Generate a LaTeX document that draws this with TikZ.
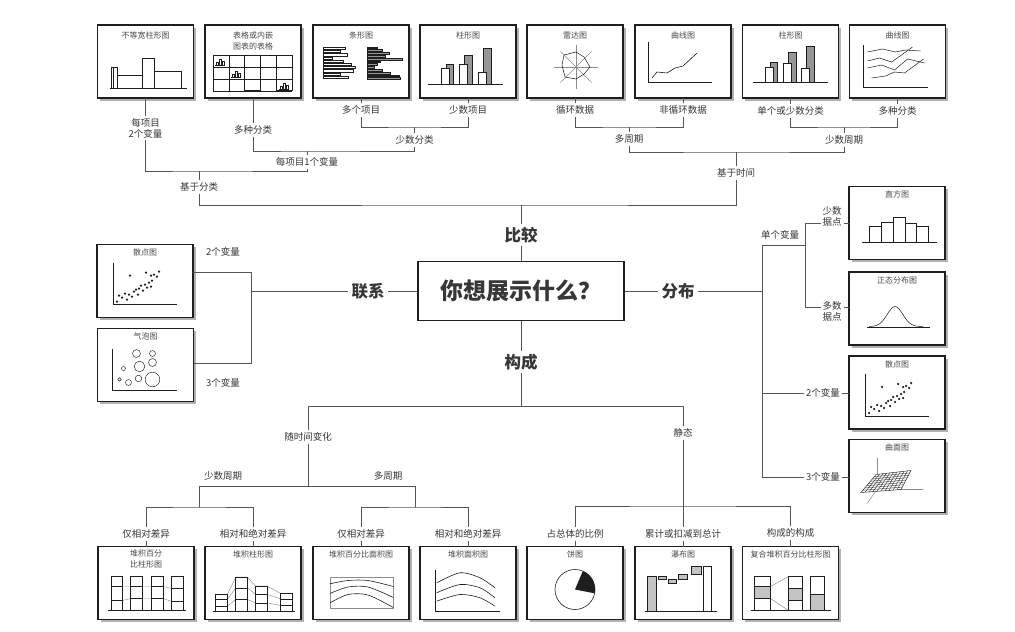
\documentclass[tikz,border=0pt]{standalone}
\usepackage{fontspec}
\setmainfont{Noto Sans CJK SC}
\usetikzlibrary{calc,shadows}
\definecolor{chart@line}{RGB}{85,85,85}
\definecolor{chart@text}{RGB}{55,55,55}
\definecolor{chart@frame}{RGB}{30,30,30}
\definecolor{chart@fill}{RGB}{150,150,150}
\definecolor{chart@light}{RGB}{195,195,195}
\definecolor{chart@thin}{RGB}{140,140,140}
\tikzset{
  chooser/.style={x=1pt, y=-1pt, line width=0.6pt},
  chartbox/.style={                % small chart panel
    draw=chart@frame, line width=1.1pt, fill=white,
    minimum width=96pt, minimum height=73pt,
    inner sep=0pt, outer sep=0pt,
    drop shadow={shadow xshift=2.5pt, shadow yshift=-2.5pt, fill=black, opacity=0.3}
  },
  qbox/.style={                    % central question
    draw=chart@frame, line width=1.2pt, fill=white,
    minimum width=206pt, minimum height=59pt,
    font=\fontsize{23}{26}\selectfont\bfseries, text=chart@text
  },
  ctitle/.style={font=\fontsize{8}{11}\selectfont, text=chart@text!90, align=center, inner sep=1pt},
  branch/.style={font=\fontsize{9.5}{11}\selectfont, text=chart@text, align=center, inner sep=2pt},
  branchw/.style={branch, fill=white},
  topic/.style={font=\fontsize{16.5}{18}\selectfont\bfseries, text=chart@text, inner sep=3pt},
  link/.style={draw=chart@line, line width=0.75pt},
  ink/.style={draw=chart@frame, line width=0.6pt},
  thinline/.style={draw=chart@thin, line width=0.45pt},
  greybar/.style={draw=chart@frame, fill=chart@fill, line width=0.5pt},
  lightbar/.style={draw=chart@frame, fill=chart@light, line width=0.5pt},
  whitebar/.style={draw=chart@frame, fill=white, line width=0.5pt},
  cellbars/.pic={
    \draw[ink, line width=0.4pt] (0,0) -- (10,0);
    \draw[ink, line width=0.4pt] (1,0) |- (3,-3) -- (3,0);
    \draw[ink, line width=0.4pt] (4,0) |- (6,-6) -- (6,0);
    \draw[ink, line width=0.4pt] (7,0) |- (9,-4) -- (9,0);
  },
  scatterplot/.pic={
    \draw[ink] (16,18) -- (16,60) -- (80,60);
    \foreach \px/\py in {20/57, 22/51, 25/53, 28/49, 30/55, 32/50, 35/52, 37/47, 39/45,
                         41/50, 42/44, 44/41, 46/46, 48/40, 50/43, 52/38, 54/42, 55/36,
                         57/30, 60/32, 62/27, 33/31, 49/28, 54/31}
      \fill[chart@frame] (\px,\py) circle (1.25);
  }
}

\begin{document}
\begin{tikzpicture}[chooser]
\useasboundingbox[fill=white] (0,0) rectangle (1015,632);

% Central question and the four topics
\node[qbox] (q) at (521,291) {你想展示什么？};
\node[topic] (cmp)  at (521,235) {比较};
\node[topic] (rel)  at (368,291) {联系};
\node[topic] (dist) at (678,291) {分布};
\node[topic] (comp) at (521,362) {构成};

% Top row of charts
\node[chartbox] (t1) at (145.5,61.5) {};
\node[chartbox] (t2) at (253,61.5) {};
\node[chartbox] (t3) at (361,61.5) {};
\node[chartbox] (t4) at (468,61.5) {};
\node[chartbox] (t5) at (575,61.5) {};
\node[chartbox] (t6) at (683,61.5) {};
\node[chartbox] (t7) at (790.5,61.5) {};
\node[chartbox] (t8) at (897.5,61.5) {};

% Left charts
\node[chartbox] (s1) at (145,281) {};
\node[chartbox] (s2) at (145.5,365) {};

% Right charts
\node[chartbox] (r1) at (897,223) {};
\node[chartbox] (r2) at (897,308.5) {};
\node[chartbox] (r3) at (897,392.5) {};
\node[chartbox] (r4) at (897,476) {};

% Bottom row of charts
\node[chartbox] (b1) at (146,583) {};
\node[chartbox] (b2) at (253,583) {};
\node[chartbox] (b3) at (361,583) {};
\node[chartbox] (b4) at (468,583) {};
\node[chartbox] (b5) at (575,583) {};
\node[chartbox] (b6) at (683,583) {};
\node[chartbox] (b7) at (790.5,583) {};

% ---------- chart contents ----------
\begin{scope}[shift={(t1.north west)}]
  \node[ctitle] (t1-title) at (48,10) {不等宽柱形图};
  \draw[ink] (12,63) -- (89,63);
  \draw[ink] (14,63) |- (20,42) -- (20,63);
  \draw[ink] (16,63) -- (16,42);
  \draw[ink] (20,50) -- (45,50);
  \draw[ink] (45,63) |- (57,33) -- (57,63);
  \draw[ink] (57,46) -- (84,46) -- (84,63);
\end{scope}

\begin{scope}[shift={(t2.north west)}]
  \node[ctitle] (t2-title) at (48,16) {表格或内嵌\\图表的表格};
  \foreach \i in {0,...,5} \draw[ink, line width=0.45pt] ({8+\i*15.8},30) -- ({8+\i*15.8},66);
  \foreach \j in {0,...,3} \draw[ink, line width=0.45pt] (8,{30+\j*12}) -- (87,{30+\j*12});
  \pic at (10,40) {cellbars};
  \pic at (26,52) {cellbars};
  \pic at (74,64) {cellbars};
  \draw[chart@frame, line width=1.5pt] (40,66) -- (55,66);
  \draw[chart@frame, line width=1.5pt] (72,66) -- (87,66);
\end{scope}

\begin{scope}[shift={(t3.north west)}]
  \node[ctitle] (t3-title) at (48,10) {条形图};
  \foreach \len [count=\k] in {22,17,24,9,20,28,32,30,17,25}
    \draw[whitebar, line width=0.4pt] (10,{19+\k*3.2}) rectangle ++(\len,2.2);
  \foreach \len [count=\k] in {10,15,22,18,35,13,10,7,15,23,32,33}
    \draw[greybar, line width=0.3pt] (54,{19+\k*2.8}) rectangle ++(\len,1.8);
\end{scope}

\begin{scope}[shift={(t4.north west)}]
  \node[ctitle] (t4-title) at (48,10) {柱形图};
  \draw[greybar] (26,59) rectangle (33,39);
  \draw[whitebar] (21,59) rectangle (29,43);
  \draw[greybar] (44,59) rectangle (52,30);
  \draw[whitebar] (39,59) rectangle (47,39);
  \draw[greybar] (63,59) rectangle (71,23);
  \draw[whitebar] (58,59) rectangle (66,47);
  \draw[ink] (8,59) -- (83,59);
\end{scope}

\begin{scope}[shift={(t5.north west)}]
  \node[ctitle] (t5-title) at (48,10) {雷达图};
  \foreach \a in {0,45,...,315} \draw[thinline] (49,42) -- ++(\a:22);
  \draw[ink, line width=0.5pt] (37,30) -- (49,27) -- (57,32) -- (63,42) -- (57,49)
    -- (49,54) -- (38,52) -- (35,40) -- cycle;
\end{scope}

\begin{scope}[shift={(t6.north west)}]
  \node[ctitle] (t6-title) at (48,10) {曲线图};
  \draw[ink] (13,17) -- (13,57) -- (77,57);
  \draw[ink] (17,53) -- (22,47) -- (32,48) -- (40,43) -- (48,41) -- (62,28);
\end{scope}

\begin{scope}[shift={(t7.north west)}]
  \node[ctitle] (t7-title) at (48,10) {柱形图};
  \draw[greybar] (28,57) rectangle (35,37);
  \draw[whitebar] (23,57) rectangle (31,42);
  \draw[greybar] (46,57) rectangle (54,27);
  \draw[whitebar] (41,57) rectangle (49,38);
  \draw[greybar] (64,57) rectangle (72,21);
  \draw[whitebar] (59,57) rectangle (67,43);
  \draw[ink] (10,57) -- (85,57);
\end{scope}

\begin{scope}[shift={(t8.north west)}]
  \node[ctitle] (t8-title) at (48,10) {曲线图};
  \draw[ink] (14,20) -- (14,62) -- (78,62);
  \draw[ink, line width=0.5pt] (18,27) -- (33,24) -- (46,27) -- (56,25) -- (71,26);
  \draw[ink, line width=0.5pt] (18,36) -- (30,33) -- (42,37) -- (52,30) -- (63,22);
  \draw[ink, line width=0.5pt] (18,43) -- (32,40) -- (45,45) -- (58,34) -- (75,38);
  \draw[ink, line width=0.5pt] (22,53) -- (36,51) -- (45,47) -- (55,48) -- (74,34);
\end{scope}

\begin{scope}[shift={(s1.north west)}]
  \node[ctitle] (s1-title) at (48,8) {散点图};
  \pic at (0,0) {scatterplot};
\end{scope}

\begin{scope}[shift={(s2.north west)}]
  \node[ctitle] (s2-title) at (48,8) {气泡图};
  \draw[ink] (15,20) -- (15,62) -- (79,62);
  \foreach \cx/\cy/\r in {39/25/4, 55/25/3, 26/40/2, 42/38/5.3, 55/34/4,
                          22/51/1.7, 31/54/3, 41/50/3.3, 55/51/7.3}
    \draw[ink, line width=0.45pt] (\cx,\cy) circle (\r);
\end{scope}

\begin{scope}[shift={(r1.north west)}]
  \node[ctitle] (r1-title) at (48,8) {直方图};
  \draw[whitebar] (20.3,55.7) rectangle (32,39.7);
  \draw[whitebar] (32,55.7) rectangle (44.3,35.7);
  \draw[whitebar] (44.3,55.7) rectangle (56.7,30.3);
  \draw[whitebar] (56.7,55.7) rectangle (67.7,37);
  \draw[whitebar] (67.7,55.7) rectangle (79.3,39.7);
  \draw[ink] (13,55.7) -- (88,55.7);
\end{scope}

\begin{scope}[shift={(r2.north west)}]
  \node[ctitle] (r2-title) at (48,8) {正态分布图};
  \draw[ink] (18,55) -- (81,55);
  \draw[ink, line width=0.5pt] plot[domain=20:74, smooth, samples=40]
    (\x, {54.5 - 20*exp(-((\x-46)/11)^2)});
\end{scope}

\begin{scope}[shift={(r3.north west)}]
  \node[ctitle] (r3-title) at (48,8) {散点图};
  \pic at (0,0) {scatterplot};
\end{scope}

\begin{scope}[shift={(r4.north west)}]
  \node[ctitle] (r4-title) at (48,8) {曲面图};
  \draw[thinline] (28,50) -- (28,18);
  \draw[thinline] (28,50) -- (74,50);
  \draw[thinline] (28,50) -- (18,64);
  \draw[ink, line width=0.45pt, fill=white] (12,53) -- (52,50) -- (62,31) -- (27,35) -- cycle;
  \foreach \t in {0.125,0.25,...,0.9}
    \draw[ink, line width=0.35pt] ($(12,53)!\t!(27,35)$) -- ($(52,50)!\t!(62,31)$);
  \foreach \t in {0.1,0.2,...,0.95}
    \draw[ink, line width=0.35pt] ($(12,53)!\t!(52,50)$) -- ($(27,35)!\t!(62,31)$);
\end{scope}

\begin{scope}[shift={(b1.north west)}]
  \node[ctitle] (b1-title) at (48,12.5) {堆积百分\\比柱形图};
  \draw[thinline] (24.3,40) -- (32.7,40) (44.3,40) -- (53.7,40) (65.3,40) -- (73.7,42);
  \draw[thinline] (24.3,54) -- (32.7,52) (44.3,52) -- (53.7,52) (65.3,52) -- (73.7,55);
  \foreach \xa/\xb/\da/\db in {13.7/24.3/40/54, 32.7/44.3/40/52, 53.7/65.3/40/52, 73.7/85.3/42/55} {
    \draw[ink] (\xa,30) rectangle (\xb,64);
    \draw[ink] (\xa,\da) -- (\xb,\da);
    \draw[ink] (\xa,\db) -- (\xb,\db);
  }
  \draw[ink] (10,64) -- (88,64);
\end{scope}

\begin{scope}[shift={(b2.north west)}]
  \node[ctitle] (b2-title) at (48,8) {堆积柱形图};
  \draw[thinline] (22.3,48) -- (30.7,30.7) -- (42.3,30.7) -- (50.7,39.7) -- (62.3,39.7) -- (75.7,47);
  \draw[thinline] (22.3,53) -- (30.7,41.3) (42.3,41.3) -- (50.7,48) (62.3,48) -- (75.7,52.3);
  \draw[thinline] (22.3,59.7) -- (30.7,53) (42.3,53) -- (50.7,56.3) (62.3,56.3) -- (75.7,59);
  \foreach \xa/\xb/\tp/\da/\db in {10.7/22.3/48/53/59.7, 30.7/42.3/30.7/41.3/53,
                                   50.7/62.3/39.7/48/56.3, 75.7/87.3/47/52.3/59} {
    \draw[ink] (\xa,\tp) rectangle (\xb,64.7);
    \draw[ink] (\xa,\da) -- (\xb,\da);
    \draw[ink] (\xa,\db) -- (\xb,\db);
  }
  \draw[ink] (8,64.7) -- (90,64.7);
\end{scope}

\begin{scope}[shift={(b3.north west)}]
  \node[ctitle] (b3-title) at (48,8) {堆积百分比面积图};
  \draw[thinline] (17,30.7) rectangle (80.3,62);
  \draw[ink] plot[smooth] coordinates {(17,37.3) (35,34) (55,34) (80.3,40)};
  \draw[ink] plot[smooth] coordinates {(17,47) (35,40.5) (55,40.5) (80.3,51)};
  \draw[ink] plot[smooth] coordinates {(17,56.3) (35,48) (55,48.5) (80.3,61)};
\end{scope}

\begin{scope}[shift={(b4.north west)}]
  \node[ctitle] (b4-title) at (48,8) {堆积面积图};
  \draw[ink] (15,23) -- (15,64.7) -- (80,64.7);
  \draw[ink] plot[smooth] coordinates {(16.7,36.3) (40,26.3) (60,31.3) (75,41.3)};
  \draw[ink] plot[smooth] coordinates {(16.7,46.3) (40,38) (60,41.3) (75,51.3)};
  \draw[ink] plot[smooth] coordinates {(16.7,54.7) (40,48) (60,51.3) (75,59.7)};
\end{scope}

\begin{scope}[shift={(b5.north west)}]
  \node[ctitle] (b5-title) at (48,8) {饼图};
  \draw[ink] (48,43) circle (20);
  \fill[chart@frame] (48,43) -- ++(11:20) arc[start angle=11, end angle=-67, radius=20] -- cycle;
\end{scope}

\begin{scope}[shift={(b6.north west)}]
  \node[ctitle] (b6-title) at (48,8) {瀑布图};
  \draw[lightbar] (12.3,29.7) rectangle (21.7,64.7);
  \draw[lightbar] (23.3,29.7) rectangle (31.7,33);
  \draw[lightbar] (33.3,33) rectangle (41.7,36.3);
  \draw[lightbar] (43.3,28) rectangle (52.3,33);
  \draw[lightbar] (56.7,19.7) rectangle (66.7,28);
  \draw[whitebar] (68.3,19.7) rectangle (76.7,64.7);
  \draw[ink] (10,64.7) -- (82,64.7);
\end{scope}

\begin{scope}[shift={(b7.north west)}]
  \node[ctitle] (b7-title) at (48,8) {复合堆积百分比柱形图};
  \draw[thinline] (28,40) -- (46,30) (28,52) -- (46,64);
  \draw[whitebar] (12,30) rectangle (28,64);
  \draw[lightbar] (12,40) rectangle (28,52);
  \draw[ink] (12,40) -- (28,40) (12,52) -- (28,52);
  \draw[whitebar] (46,30) rectangle (60,64);
  \draw[lightbar] (46,42) rectangle (60,54);
  \draw[ink] (46,42) -- (60,42) (46,54) -- (60,54);
  \draw[whitebar] (68,30) rectangle (82,64);
  \draw[lightbar] (68,48) rectangle (82,64);
  \draw[ink] (8,64) -- (88,64);
\end{scope}

% ---------- top branch labels ----------
\node[branch] (l1) at (145.5,128) {每项目\\2个变量};
\node[branch] (l2) at (253,130) {多种分类};
\node[branch] (l3) at (361,110) {多个项目};
\node[branch] (l4) at (468,110) {少数项目};
\node[branch] (l5) at (575,110) {循环数据};
\node[branch] (l6) at (683,110) {非循环数据};
\node[branch] (l7) at (790.5,111) {单个或少数分类};
\node[branch] (l8) at (897.5,111) {多种分类};
\node[branch] (g34)   at (414.5,140) {少数分类};
\node[branch] (g56)   at (629,139) {多周期};
\node[branch] (g78)   at (844,140) {少数周期};
\node[branch] (g234)  at (307,162) {每项目1个变量};
\node[branch] (gcat)  at (199,187) {基于分类};
\node[branch] (gtime) at (736,173) {基于时间};

\coordinate (h34)   at (414.5,127);
\coordinate (h56)   at (629,127);
\coordinate (h78)   at (844,127);
\coordinate (h2)    at (307,151);
\coordinate (hcat)  at (199,171);
\coordinate (htime) at (736,152);
\coordinate (hcmp)  at (521,205);

% Top connectors
\draw[link] (t1) -- (l1);
\draw[link] (t2) -- (l2);
\draw[link] (t3) -- (l3);
\draw[link] (t4) -- (l4);
\draw[link] (t5) -- (l5);
\draw[link] (t6) -- (l6);
\draw[link] (t7) -- (l7);
\draw[link] (t8) -- (l8);
\draw[link] (l3) |- (h34) -| (l4);
\draw[link] (h34) -- (g34);
\draw[link] (l2) |- (h2) -| (g34);
\draw[link] (h2) -- (g234);
\draw[link] (l1) |- (hcat) -| (g234);
\draw[link] (hcat) -- (gcat);
\draw[link] (l5) |- (h56) -| (l6);
\draw[link] (h56) -- (g56);
\draw[link] (l7) |- (h78) -| (l8);
\draw[link] (h78) -- (g78);
\draw[link] (g56) |- (htime) -| (g78);
\draw[link] (htime) -- (gtime);
\draw[link] (gcat) |- (hcmp) -| (gtime);
\draw[link] (hcmp) -- (cmp);
\draw[link] (cmp) -- (q);

% ---------- left: relationship ----------
\coordinate (jrel) at (251,291);
\coordinate (jr2)  at (251,272);
\coordinate (jr3)  at (251,363);
\draw[link] (q) -- (rel);
\draw[link] (rel) -- (jrel);
\draw[link] (s1.east |- jr2) -- (jr2) -- (jr3) -- (s2.east |- jr3);
\node[branch] (lr2) at (223,252) {2个变量};
\node[branch] (lr3) at (223,383) {3个变量};

% ---------- right: distribution ----------
\coordinate (jdist) at (762,291);
\coordinate (jd1)   at (762,245);
\coordinate (jd2)   at (762,393);
\coordinate (jd3)   at (762,477);
\coordinate (jsv)   at (805,245);
\coordinate (jsva)  at (805,223);
\coordinate (jsvb)  at (805,307);
\draw[link] (q) -- (dist);
\draw[link] (dist) -- (jdist);
\draw[link] (jd1) -- (jd3);
\draw[link] (jd1) -- (jsv);
\draw[link] (jsva) -- (jsvb);
\draw[link] (jsva) -- (r1.west |- jsva);
\draw[link] (jsvb) -- (r2.west |- jsvb);
\draw[link] (jd2) -- (r3.west |- jd2);
\draw[link] (jd3) -- (r4.west |- jd3);
\node[branch] (ld1) at (780,235) {单个变量};
\node[branchw] (ld2) at (832,216) {少数\\据点};
\node[branchw] (ld3) at (832,311) {多数\\据点};
\node[branchw] (ld4) at (823,393) {2个变量};
\node[branchw] (ld5) at (823,477) {3个变量};

% ---------- bottom: composition ----------
\node[branch] (gtl) at (308,437) {随时间变化};
\node[branch] (gst) at (683,433) {静态};
\node[branch] (lfew)  at (223,476) {少数周期};
\node[branch] (lmany) at (388,476) {多周期};
\node[branch] (bl1) at (146,534) {仅相对差异};
\node[branch] (bl2) at (253,534) {相对和绝对差异};
\node[branch] (bl3) at (361,534) {仅相对差异};
\node[branch] (bl4) at (468,534) {相对和绝对差异};
\node[branch] (bl5) at (575,534) {占总体的比例};
\node[branch] (bl6) at (683,534) {累计或扣减到总计};
\node[branch] (bl7) at (790.5,533) {构成的构成};

\coordinate (hcomp)  at (521,406);
\coordinate (htl)    at (308,406);
\coordinate (hst)    at (683,406);
\coordinate (hper)   at (308,486);
\coordinate (hfew)   at (199,486);
\coordinate (hmany)  at (415,486);
\coordinate (hfew2)  at (199,507);
\coordinate (hmany2) at (415,507);
\coordinate (hst2)   at (683,506);

\draw[link] (q) -- (comp);
\draw[link] (comp) -- (hcomp);
\draw[link] (htl) -- (hst);
\draw[link] (htl) -- (gtl);
\draw[link] (hst) -- (gst);
\draw[link] (gtl) -- (hper);
\draw[link] (hfew) -- (hmany);
\draw[link] (hfew) -- (hfew2);
\draw[link] (hmany) -- (hmany2);
\draw[link] (bl1) |- (hfew2) -| (bl2);
\draw[link] (bl3) |- (hmany2) -| (bl4);
\draw[link] (gst) -- (bl6);
\draw[link] (bl5) |- (hst2) -| (bl7);
\draw[link] (bl1) -- (b1);
\draw[link] (bl2) -- (b2);
\draw[link] (bl3) -- (b3);
\draw[link] (bl4) -- (b4);
\draw[link] (bl5) -- (b5);
\draw[link] (bl6) -- (b6);
\draw[link] (bl7) -- (b7);

\end{tikzpicture}
\end{document}
